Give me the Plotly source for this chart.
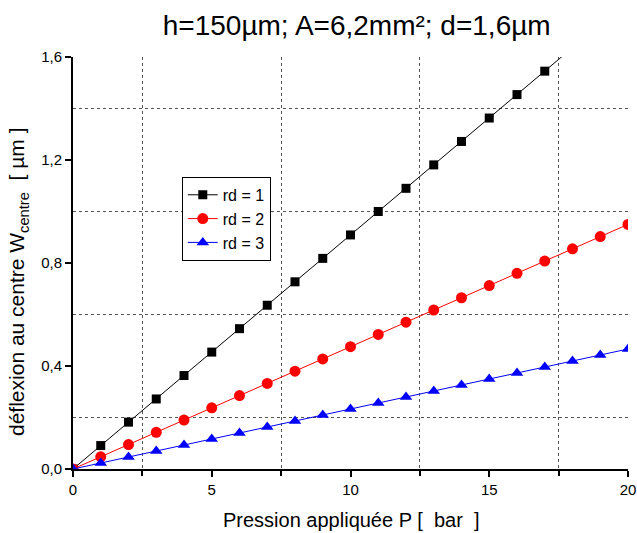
import plotly.graph_objects as go

pression = list(range(0, 21))
rd1 = [0.0, 0.091, 0.182, 0.272, 0.363, 0.454, 0.545, 0.636, 0.727, 0.818, 0.909,
       1.0, 1.09, 1.181, 1.272, 1.363, 1.454, 1.545, 1.636, 1.727, 1.818]
rd2 = [0.0, 0.0475, 0.095, 0.1425, 0.19, 0.2375, 0.285, 0.3325, 0.38, 0.4275, 0.475,
       0.5225, 0.57, 0.6175, 0.665, 0.7125, 0.76, 0.8075, 0.855, 0.9025, 0.95]
rd3 = [0.0, 0.0233, 0.0466, 0.0699, 0.0932, 0.1165, 0.1398, 0.1631, 0.1864, 0.2097, 0.233,
       0.2563, 0.2796, 0.3029, 0.3262, 0.3495, 0.3728, 0.3961, 0.4194, 0.4427, 0.466]
series_names = ["rd = 1", "rd = 2", "rd = 3"]
x_title = "Pression appliquée P [  bar  ]"
y_title = "déflexion au centre W<sub>centre</sub>  [ µm ]"
chart_title = "h=150µm; A=6,2mm²; d=1,6µm"

fig = go.Figure()
styles = [("black", "square", 9), ("red", "circle", 11), ("blue", "triangle-up", 11)]
for name, ys, (col, sym, sz) in zip(series_names, [rd1, rd2, rd3], styles):
    fig.add_trace(go.Scatter(x=pression, y=ys, name=name, mode="lines+markers",
                             line=dict(color=col, width=1),
                             marker=dict(color=col, symbol=sym, size=sz)))

font = "Liberation Sans, Arial, sans-serif"
fig.update_layout(
    width=637, height=533,
    paper_bgcolor="white", plot_bgcolor="white",
    separators=", ",
    font=dict(family=font, color="black", size=15),
    margin=dict(l=73, r=9, t=57, b=64, autoexpand=False),
    title=dict(text=chart_title, x=0.56, xanchor="center",
               y=0.953, yanchor="middle", font=dict(size=28, family=font)),
    legend=dict(x=0.196, y=0.709, xanchor="left", yanchor="top",
                bordercolor="black", borderwidth=1, bgcolor="white",
                font=dict(size=16), tracegroupgap=0),
    showlegend=True,
    annotations=[
        dict(text=x_title, xref="paper", yref="paper", x=0.5, y=-0.124,
             xanchor="center", yanchor="middle", showarrow=False,
             font=dict(size=20)),
        dict(text=y_title, xref="paper", yref="paper", x=-0.099, y=0.454,
             xanchor="center", yanchor="middle", showarrow=False, textangle=-90,
             font=dict(size=21)),
    ],
)
fig.update_xaxes(range=[0, 20], tickvals=[0, 5, 10, 15, 20], ticks="outside",
                 ticklen=6, tickwidth=1.5, tickcolor="black", showline=True, linecolor="black",
                 linewidth=2, showgrid=False, zeroline=False, automargin=False,
                 tickfont=dict(size=15), ticklabeloverflow="allow",
                 minor=dict(tickvals=[2.5, 7.5, 12.5, 17.5], ticks="outside", ticklen=5,
                            tickcolor="black", showgrid=True, griddash="dot",
                            gridcolor="#555", gridwidth=1))
fig.update_yaxes(range=[0, 1.6], tickvals=[0, 0.4, 0.8, 1.2, 1.6], tickformat=".1f",
                 ticks="outside", ticklen=6, tickwidth=1.5, tickcolor="black", showline=True,
                 linecolor="black", linewidth=2, showgrid=False, zeroline=False,
                 automargin=False, tickfont=dict(size=15),
                 minor=dict(tickvals=[0.2, 0.6, 1.0, 1.4], ticks="", showgrid=True,
                            griddash="dot", gridcolor="#555", gridwidth=1))

fig.write_html("out.html", config={"displayModeBar": False},
               post_script="document.body.style.margin='0';document.body.style.overflow='hidden';")
